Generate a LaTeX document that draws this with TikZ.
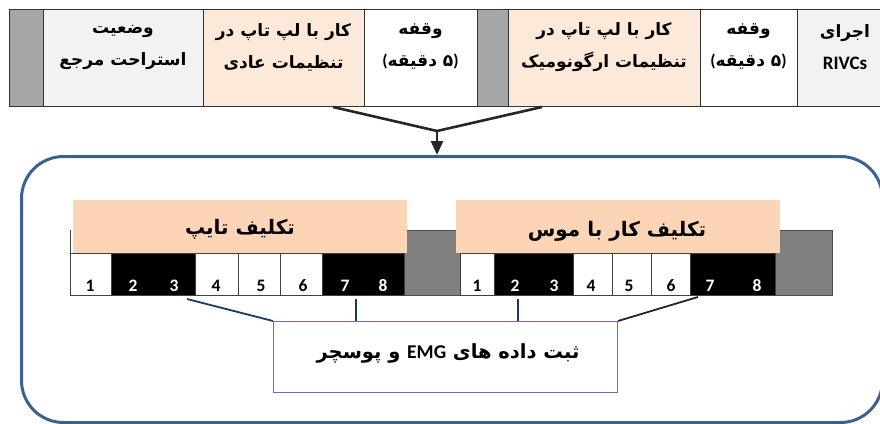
\documentclass[tikz,border=0pt]{standalone}
\usepackage{fontspec}
\setmainfont{Carlito}
\newfontfamily\fa[Script=Arabic]{DejaVu Sans}
\newfontfamily\lat{Carlito}
\TeXXeTstate=1
\usetikzlibrary{arrows.meta,calc}
\definecolor{peachL}{RGB}{253,233,217}
\definecolor{peachB}{RGB}{251,213,181}
\definecolor{lgray}{RGB}{242,242,242}
\definecolor{mgray}{RGB}{166,166,166}
\definecolor{dgray}{RGB}{128,128,128}
\definecolor{frameblue}{RGB}{59,96,145}
\definecolor{linkblue}{RGB}{31,56,100}
\definecolor{boxpurple}{RGB}{140,90,190}
\newcommand\fivemin{\mbox{\lat\bfseries(}\mbox{دقیقه}\mbox{\ }\mbox{۵}\mbox{\lat\bfseries)}}
\begin{document}
\begin{tikzpicture}[x=1pt,y=-1pt,
  topcell/.style={draw=black!80, line width=0.8pt, anchor=north west, inner sep=0, minimum height=97pt},
  toptext/.style={font=\fa\bfseries\fontsize{17}{32}\selectfont, align=center, text=black, inner sep=0},
  rowcell/.style={draw=black!75, line width=0.7pt, anchor=north west, inner sep=0, minimum height=42pt},
  graycell/.style={fill=dgray, draw=dgray!60!black, line width=0.8pt, anchor=north west, inner sep=0, minimum height=65pt},
  banner/.style={fill=peachB, anchor=north west, inner sep=0, minimum height=53pt},
  bantext/.style={font=\fa\bfseries\fontsize{20}{22}\selectfont, inner sep=0},
  numtext/.style={font=\lat\bfseries\fontsize{17.5}{18}\selectfont, inner sep=0},
  link/.style={line width=1.8pt},
  arrowline/.style={line width=2.6pt, black!85}
]
\useasboundingbox (0,0) rectangle (880,423);

% top bar
\node[topcell, fill=mgray, minimum width=34pt] (tg1) at (9,9) {};
\node[topcell, fill=lgray, minimum width=160pt] (tc1) at (43,9) {};
\node[topcell, fill=peachL, minimum width=161pt] (tc2) at (203,9) {};
\node[topcell, fill=white, minimum width=113pt] (tc3) at (364,9) {};
\node[topcell, fill=mgray, minimum width=31pt] (tg2) at (477,9) {};
\node[topcell, fill=peachL, minimum width=192pt] (tc4) at (508,9) {};
\node[topcell, fill=white, minimum width=97pt] (tc5) at (700,9) {};
\node[topcell, fill=lgray, minimum width=100pt] (tc6) at (797,9) {};

\node[toptext] (t1) at (123,47) {\beginR وضعیت\endR\\\beginR استراحت مرجع\endR};
\node[toptext] (t2) at (283.5,47) {\beginR کار با لپ تاپ در\endR\\\beginR تنظیمات عادی\endR};
\node[toptext] (t3) at (420.5,47) {\beginR وقفه\endR\\\fivemin};
\node[toptext] (t4) at (604,47) {\beginR کار با لپ تاپ در\endR\\\beginR تنظیمات ارگونومیک\endR};
\node[toptext] (t5) at (748.5,47) {\beginR وقفه\endR\\\fivemin};
\node[toptext] (t6) at (845,47) {\beginR اجرای\endR\\{\lat\fontsize{19}{32}\selectfont RIVCs}};

% arrow
\coordinate (a1) at (333,107);
\coordinate (a2) at (542,107);
\coordinate (v) at (437,131);

% frame
\node[draw=frameblue, line width=3pt, rounded corners=42pt, anchor=north west, inner sep=0,
      minimum width=861pt, minimum height=266pt] (frame) at (20,155) {};

\draw[arrowline, line join=miter] (a1) -- (v) -- (a2);
\draw[arrowline, -{Triangle[width=12pt,length=14pt]}] (v) -- (v |- frame.north);

% gray blocks
\node[graycell, minimum width=56pt] (gm) at (404,230) {};
\node[graycell, minimum width=57pt] (gr) at (775,230) {};

% left row
\node[rowcell, fill=white, minimum width=41pt] (l1) at (70,253) {};
\node[rowcell, fill=black, minimum width=84pt] (l23) at (111,253) {};
\node[rowcell, fill=white, minimum width=43pt] (l4) at (195,253) {};
\node[rowcell, fill=white, minimum width=42pt] (l5) at (238,253) {};
\node[rowcell, fill=white, minimum width=42pt] (l6) at (280,253) {};
\node[rowcell, fill=black, minimum width=82pt] (l78) at (322,253) {};
\draw[black!75, line width=0.7pt] (l1.north west) -- ++(0,-23);

% right row
\node[rowcell, fill=white, minimum width=34pt] (r1) at (460,253) {};
\node[rowcell, fill=black, minimum width=79pt] (r23) at (494,253) {};
\node[rowcell, fill=white, minimum width=39pt] (r4) at (573,253) {};
\node[rowcell, fill=white, minimum width=39pt] (r5) at (612,253) {};
\node[rowcell, fill=white, minimum width=39pt] (r6) at (651,253) {};
\node[rowcell, fill=black, minimum width=85pt] (r78) at (690,253) {};

% banners
\node[banner, minimum width=334pt] (lb) at (73,200) {};
\node[banner, minimum width=324pt] (rb) at (456,200) {};
\node[bantext] (lbt) at (240,229) {\beginR تکلیف تایپ\endR};
\node[bantext] (rbt) at (617,231) {\beginR تکلیف کار با موس\endR};

% numbers
\foreach \x/\n/\c [count=\i] in {90/1/black,133/2/white,174/3/white,216/4/black,261/5/black,303/6/black,345/7/white,383/8/white}
  \node[numtext, text=\c] (ln\i) at (\x,285.5) {\n};
\foreach \x/\n/\c [count=\i] in {477/1/black,515/2/white,554/3/white,591/4/black,629/5/black,671/6/black,710/7/white,757/8/white}
  \node[numtext, text=\c] (rn\i) at (\x,285.5) {\n};

% bottom box
\node[draw=boxpurple, line width=1pt, fill=white, anchor=north west, inner sep=0,
      minimum width=344pt, minimum height=71pt] (box) at (273,321) {};
\node[font=\fa\bfseries\fontsize{19.5}{22}\selectfont, inner sep=0] (boxt) at (448,353)
  {\beginR ثبت داده های \beginL{\lat EMG}\endL{} و پوسچر\endR};

\coordinate (p1) at (187,299);
\coordinate (p2) at (356,299);
\coordinate (p3) at (518,299);
\coordinate (p4) at (698,297);
\draw[link, linkblue] (p1) -- (box.north west);
\draw[link, linkblue] (p2) -- (p2 |- box.north);
\draw[link, linkblue] (p3) -- (p3 |- box.north);
\draw[link, black!85] (p4) -- (box.north east);
\end{tikzpicture}
\end{document}
